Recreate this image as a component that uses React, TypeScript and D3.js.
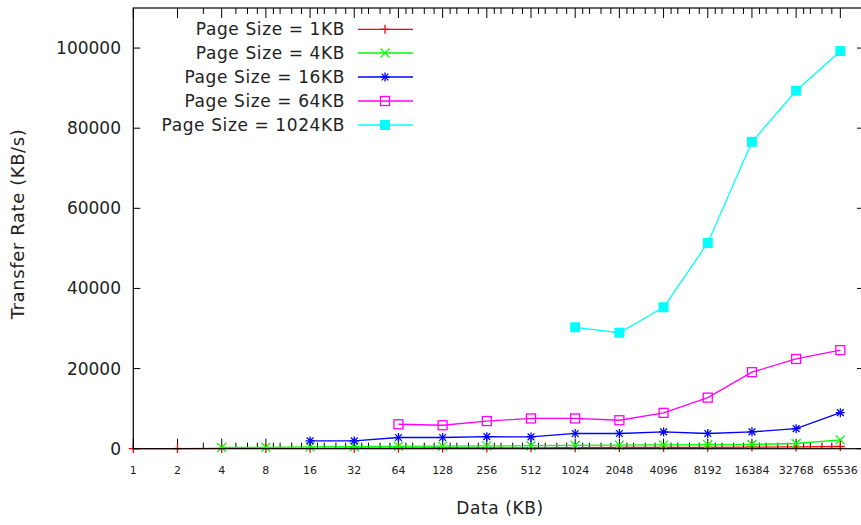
import React from "react";
import * as d3 from "d3";

const W = 861;
const H = 525;

const xTicks = [1, 2, 4, 8, 16, 32, 64, 128, 256, 512, 1024, 2048, 4096, 8192, 16384, 32768, 65536];
const yTicks = [0, 20000, 40000, 60000, 80000, 100000];
const minorMultipliers = [1.125, 1.25, 1.5, 1.75];

const sizes1 = [1, 2, 4, 8, 16, 32, 64, 128, 256, 512, 1024, 2048, 4096, 8192, 16384, 32768, 65536];
const rate1KB = [20, 40, 60, 80, 100, 120, 150, 180, 200, 220, 250, 300, 320, 350, 400, 450, 550];

const sizes4 = [4, 8, 16, 32, 64, 128, 256, 512, 1024, 2048, 4096, 8192, 16384, 32768, 65536];
const rate4KB = [300, 350, 450, 500, 600, 650, 700, 750, 850, 900, 950, 1000, 1050, 1300, 2200];

const sizes16 = [16, 32, 64, 128, 256, 512, 1024, 2048, 4096, 8192, 16384, 32768, 65536];
const rate16KB = [1950, 1950, 2800, 2800, 3000, 2950, 3800, 3800, 4200, 3800, 4200, 5000, 9000];

const sizes64 = [64, 128, 256, 512, 1024, 2048, 4096, 8192, 16384, 32768, 65536];
const rate64KB = [6100, 5850, 6900, 7550, 7550, 7100, 8950, 12750, 19100, 22400, 24600];

const sizes1024 = [1024, 2048, 4096, 8192, 16384, 32768, 65536];
const rate1024KB = [30300, 28950, 35300, 51350, 76600, 89350, 99250];

const seriesNames = ["Page Size = 1KB", "Page Size = 4KB", "Page Size = 16KB", "Page Size = 64KB", "Page Size = 1024KB"];
const seriesColors = ["#ff0000", "#00ff00", "#0000ff", "#ff00ff", "#00ffff"];
const seriesMarkers = ["plus", "cross", "star", "square", "filled"];

const series = [
  { xs: sizes1, ys: rate1KB },
  { xs: sizes4, ys: rate4KB },
  { xs: sizes16, ys: rate16KB },
  { xs: sizes64, ys: rate64KB },
  { xs: sizes1024, ys: rate1024KB },
];

const left = 133.3;
const right = 864;
const top = 8;
const bottom = 448.7;

const FONT = "'DejaVu Sans', sans-serif";

function Marker({ kind, x, y, color }: { kind: string; x: number; y: number; color: string }) {
  const r = 4.5;
  const sw = 1.3;
  if (kind === "plus") {
    return (
      <g stroke={color} strokeWidth={sw}>
        <line x1={x - r} y1={y} x2={x + r} y2={y} />
        <line x1={x} y1={y - r} x2={x} y2={y + r} />
      </g>
    );
  }
  if (kind === "cross") {
    return (
      <g stroke={color} strokeWidth={sw}>
        <line x1={x - r} y1={y - r} x2={x + r} y2={y + r} />
        <line x1={x - r} y1={y + r} x2={x + r} y2={y - r} />
      </g>
    );
  }
  if (kind === "star") {
    return (
      <g stroke={color} strokeWidth={sw}>
        <line x1={x - r} y1={y} x2={x + r} y2={y} />
        <line x1={x} y1={y - r} x2={x} y2={y + r} />
        <line x1={x - r * 0.75} y1={y - r * 0.75} x2={x + r * 0.75} y2={y + r * 0.75} />
        <line x1={x - r * 0.75} y1={y + r * 0.75} x2={x + r * 0.75} y2={y - r * 0.75} />
      </g>
    );
  }
  if (kind === "square") {
    return <rect x={x - r} y={y - r} width={2 * r} height={2 * r} fill="none" stroke={color} strokeWidth={sw} />;
  }
  return <rect x={x - r - 0.5} y={y - r - 0.5} width={2 * r + 1} height={2 * r + 1} fill={color} stroke="none" />;
}

export default function App() {
  const x = d3.scaleLog().base(2).domain([1, 95000]).range([left, right]);
  const y = d3.scaleLinear().domain([0, 110000]).range([bottom, top]);

  const minors: number[] = [];
  for (let i = 1; i < xTicks.length - 1; i++) {
    const base = xTicks[i];
    const mults = i === 1 ? [1.5] : i === 2 ? [1.25, 1.5, 1.75] : minorMultipliers;
    mults.forEach((m) => minors.push(base * m));
  }

  const line = d3
    .line<[number, number]>()
    .x((d) => x(d[0]))
    .y((d) => y(d[1]));

  const legendY = [29.3, 53, 77, 101, 125];

  return (
    <svg width={W} height={H} style={{ position: "absolute", left: 0, top: 0, background: "#fff" }}>
      <rect x={0} y={0} width={W} height={H} fill="#fff" />
      {/* ticks */}
      <g stroke="#000" strokeWidth={1}>
        {xTicks.map((t) => (
          <g key={"xt" + t}>
            <line x1={x(t)} y1={bottom} x2={x(t)} y2={bottom - 10} />
            <line x1={x(t)} y1={top} x2={x(t)} y2={top + 10} />
          </g>
        ))}
        {minors.map((t, i) => (
          <g key={"mx" + i}>
            <line x1={x(t)} y1={bottom} x2={x(t)} y2={bottom - 6} />
            <line x1={x(t)} y1={top} x2={x(t)} y2={top + 6} />
          </g>
        ))}
        {yTicks.map((t) => (
          <g key={"yt" + t}>
            <line x1={left} y1={y(t)} x2={left + 7} y2={y(t)} />
            <line x1={right} y1={y(t)} x2={right - 7} y2={y(t)} />
          </g>
        ))}
      </g>
      {/* tick labels */}
      <g fontFamily={FONT} fill="#222">
        {xTicks.map((t) => (
          <text key={"xl" + t} x={x(t)} y={474} fontSize={11} textAnchor="middle">
            {t}
          </text>
        ))}
        {yTicks.map((t) => (
          <text key={"yl" + t} x={121} y={y(t) + 6} fontSize={17} textAnchor="end">
            {t}
          </text>
        ))}
        <text x={500} y={514} fontSize={17} letterSpacing={0.6} textAnchor="middle">
          Data (KB)
        </text>
        <text transform={`translate(24,224) rotate(-90)`} fontSize={18} letterSpacing={0.6} textAnchor="middle">
          Transfer Rate (KB/s)
        </text>
      </g>
      {/* series */}
      {series.map((s, si) => {
        const pts: [number, number][] = s.xs.map((v, i) => [v, s.ys[i]]);
        return (
          <g key={"s" + si}>
            <path d={line(pts) || ""} fill="none" stroke={seriesColors[si]} strokeWidth={1.3} />
            {pts.map((p, i) => (
              <Marker key={i} kind={seriesMarkers[si]} x={x(p[0])} y={y(p[1])} color={seriesColors[si]} />
            ))}
          </g>
        );
      })}
      {/* border */}
      <rect x={left} y={top} width={right - left} height={bottom - top} fill="none" stroke="#000" strokeWidth={1.2} />
      {/* legend */}
      <g fontFamily={FONT} fill="#222">
        {seriesNames.map((n, i) => (
          <g key={"lg" + i}>
            <text x={345} y={legendY[i] + 6} fontSize={17} letterSpacing={0.6} textAnchor="end">
              {n}
            </text>
            <line x1={358} y1={legendY[i]} x2={413} y2={legendY[i]} stroke={seriesColors[i]} strokeWidth={1.3} />
            <Marker kind={seriesMarkers[i]} x={385} y={legendY[i]} color={seriesColors[i]} />
          </g>
        ))}
      </g>
    </svg>
  );
}
